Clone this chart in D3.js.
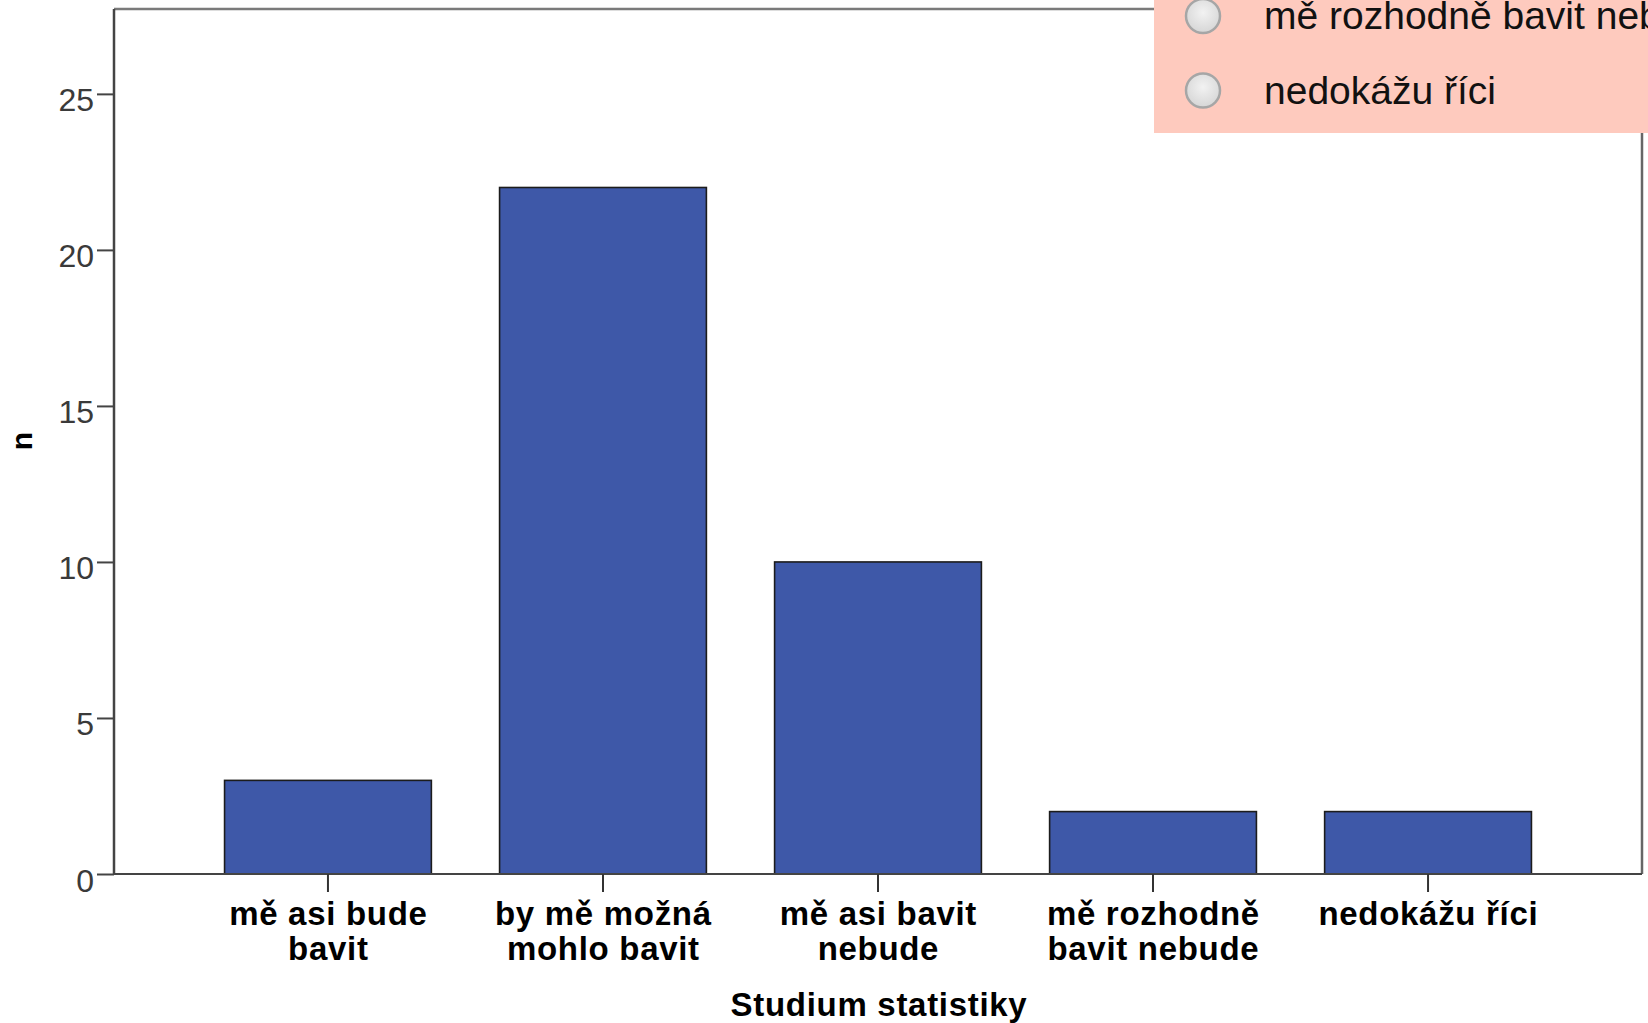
<!DOCTYPE html>
<html>
<head>
<meta charset="utf-8">
<script src="https://cdn.jsdelivr.net/npm/d3@7"></script>
<style>
  html, body { margin: 0; padding: 0; background: #fff; overflow: hidden; }
  svg { display: block; font-family: "Liberation Sans", Arial, Helvetica, sans-serif; }
</style>
</head>
<body>
<svg id="chart" width="1648" height="1023"></svg>
<script>
// ---- data ----
const categories = ["mě asi bude bavit", "by mě možná mohlo bavit", "mě asi bavit nebude", "mě rozhodně bavit nebude", "nedokážu říci"];
const labelLines = [["mě asi bude", "bavit"], ["by mě možná", "mohlo bavit"], ["mě asi bavit", "nebude"], ["mě rozhodně", "bavit nebude"], ["nedokážu říci"]];
const counts = [3, 22, 10, 2, 2];
const yTicks = [0, 5, 10, 15, 20, 25];
const legendItems = ["mě rozhodně bavit nebude", "nedokážu říci"];
const xTitle = "Studium statistiky";
const yTitle = "n";

// ---- layout ----
const svg = d3.select("#chart");
const pLeft = 114, pRight = 1642, pTop = 9, pBottom = 874;

const x = d3.scaleBand().domain(categories).range([pLeft, pRight])
  .paddingInner(0.248).paddingOuter(0.402);
const y = d3.scaleLinear().domain([0, 27.72]).range([pBottom, pTop]);

// bars
svg.append("g").selectAll("rect").data(categories).join("rect")
  .attr("x", d => x(d))
  .attr("y", (d, i) => y(counts[i]))
  .attr("width", x.bandwidth())
  .attr("height", (d, i) => y(0) - y(counts[i]))
  .attr("fill", "#3e58a8")
  .attr("stroke", "#1c1c1c")
  .attr("stroke-width", 1.6);

// frame: top and right
svg.append("line").attr("x1", pLeft).attr("x2", pRight).attr("y1", pTop).attr("y2", pTop)
  .attr("stroke", "#7a7a7a").attr("stroke-width", 2.5);
svg.append("line").attr("x1", pRight).attr("x2", pRight).attr("y1", pTop).attr("y2", pBottom)
  .attr("stroke", "#666").attr("stroke-width", 2.5);

// y axis
const yAxis = d3.axisLeft(y).tickValues(yTicks).tickSize(17).tickPadding(3).tickSizeOuter(0);
const gy = svg.append("g").attr("transform", `translate(${pLeft},0)`).call(yAxis);
gy.select(".domain").attr("stroke", "#444").attr("stroke-width", 2.5)
  .attr("d", `M0,${pTop}V${pBottom}`);
gy.selectAll(".tick line").attr("stroke", "#444").attr("stroke-width", 2);
gy.selectAll(".tick text")
  .attr("font-size", 32).attr("fill", "#3a3a3a").attr("dy", 17)
  .attr("font-family", "Liberation Sans, Arial, sans-serif");

// x axis
const xAxis = d3.axisBottom(x).tickSize(18).tickSizeOuter(0).tickFormat("");
const gx = svg.append("g").attr("transform", `translate(0,${pBottom})`).call(xAxis);
gx.select(".domain").attr("stroke", "#444").attr("stroke-width", 2.2)
  .attr("d", `M${pLeft},0H${pRight}`);
gx.selectAll(".tick line").attr("stroke", "#333").attr("stroke-width", 2);

// x labels (two lines)
const lab = svg.append("g").selectAll("text").data(categories).join("text")
  .attr("text-anchor", "middle")
  .attr("font-weight", "bold")
  .attr("font-size", 33)
  .attr("letter-spacing", "0.7px")
  .attr("fill", "#000");
lab.each(function(d, i) {
  const t = d3.select(this);
  labelLines[i].forEach((line, j) => {
    t.append("tspan")
      .attr("x", x(d) + x.bandwidth() / 2 + 0.4)
      .attr("y", 925 + j * 35)
      .text(line);
  });
});

// axis titles
svg.append("text")
  .attr("x", (pLeft + pRight) / 2 + 1).attr("y", 1016)
  .attr("text-anchor", "middle").attr("font-weight", "bold").attr("font-size", 33)
  .attr("letter-spacing", "0.7px").attr("fill", "#000")
  .text(xTitle);
svg.append("text")
  .attr("transform", "translate(32,441) rotate(-90)")
  .attr("text-anchor", "middle").attr("font-weight", "bold").attr("font-size", 30)
  .attr("fill", "#000")
  .text(yTitle);

// legend overlay (pink box with radio buttons)
const defs = svg.append("defs");
const grad = defs.append("radialGradient").attr("id", "radio").attr("cx", "50%").attr("cy", "40%").attr("r", "60%");
grad.append("stop").attr("offset", "0%").attr("stop-color", "#f2f2f2");
grad.append("stop").attr("offset", "100%").attr("stop-color", "#d6d6d6");

const lg = svg.append("g");
lg.append("rect").attr("x", 1154).attr("y", -5).attr("width", 520).attr("height", 138)
  .attr("fill", "#fecabe");
const legRows = lg.selectAll("g.row").data(legendItems).join("g").attr("class", "row")
  .attr("transform", (d, i) => `translate(0,${16 + i * 74.5})`);
legRows.append("circle").attr("cx", 1203).attr("cy", 0).attr("r", 17)
  .attr("fill", "url(#radio)").attr("stroke", "#a6a6a6").attr("stroke-width", 2.5);
legRows.append("text").attr("x", 1264).attr("y", 13)
  .attr("font-size", 39).attr("fill", "#111")
  .text(d => d);
</script>
</body>
</html>
